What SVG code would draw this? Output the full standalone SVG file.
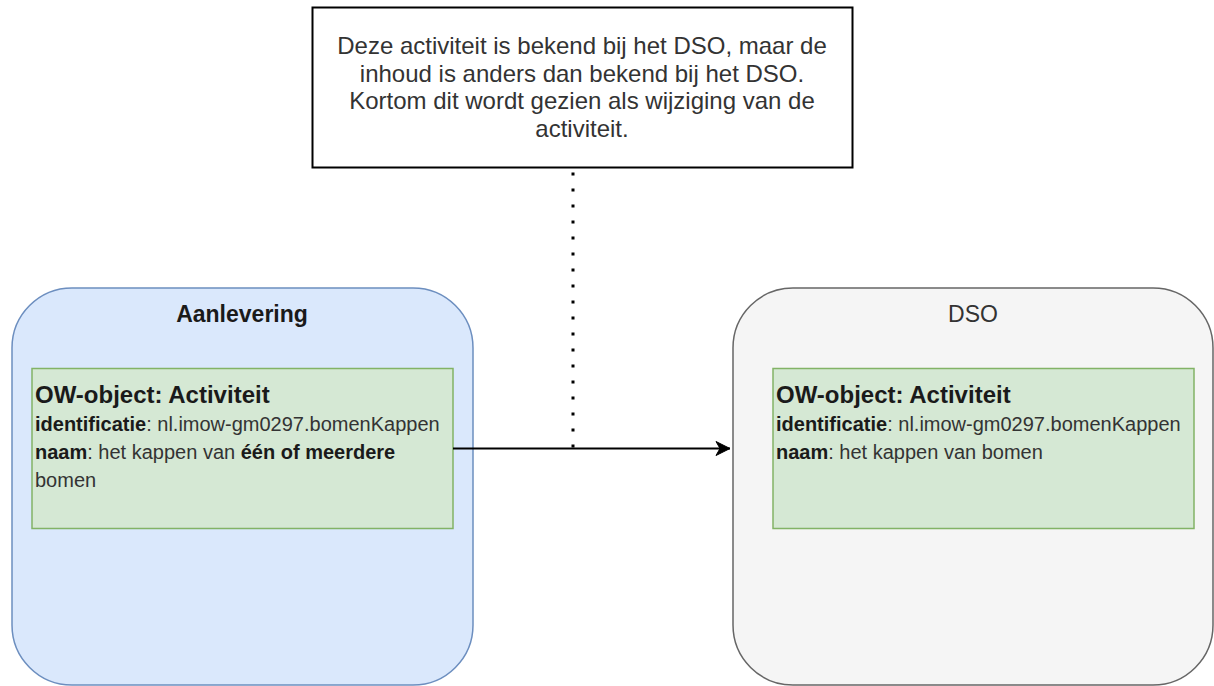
<svg xmlns="http://www.w3.org/2000/svg" width="1214" height="686" viewBox="0 0 1214 686">
<style>
text{font-family:"Liberation Sans",Arial,sans-serif;}
.title{font-size:23px;font-weight:bold;text-anchor:middle;}
.head{font-size:24px;font-weight:bold;fill:#1a1a1a;}
.attr{font-size:20px;fill:#333;}
.b{font-weight:bold;fill:#1a1a1a;}
.note{font-size:24px;fill:#333;text-anchor:middle;}
.obj{fill:#d5e8d4;stroke:#82b366;stroke-width:1.5;}
</style>
<defs>
<marker id="arr" markerWidth="16" markerHeight="16" refX="15" refY="8" orient="auto" markerUnits="userSpaceOnUse">
<path d="M1,1 L15,8 L1,15 L5,8 Z" fill="#000" stroke="#000" stroke-width="1"/>
</marker>
</defs>
<rect width="1214" height="686" fill="#fff"/>
<g id="note">
<rect x="312.5" y="7.5" width="540" height="160" fill="#fff" stroke="#000" stroke-width="2"/>
<text class="note" x="582" y="54">Deze activiteit is bekend bij het DSO, maar de</text>
<text class="note" x="582" y="81.5">inhoud is anders dan bekend bij het DSO.</text>
<text class="note" x="582" y="109">Kortom dit wordt gezien als wijziging van de</text>
<text class="note" x="582" y="136.5">activiteit.</text>
</g>
<g id="aanlevering">
<rect x="12" y="288" width="461" height="397" rx="60" ry="60" fill="#dae8fc" stroke="#6c8ebf" stroke-width="1.5"/>
<text class="title" x="242" y="322" fill="#1a1a1a">Aanlevering</text>
</g>
<g id="aanlevering-activiteit">
<rect class="obj" x="32" y="368.5" width="421" height="160"/>
<text class="head" x="35" y="403">OW-object: Activiteit</text>
<text class="attr" x="35" y="431"><tspan class="b">identificatie</tspan>: nl.imow-gm0297.bomenKappen</text>
<text class="attr" x="35" y="458.5"><tspan class="b">naam</tspan>: het kappen van <tspan class="b">één of meerdere</tspan></text>
<text class="attr" x="35" y="486.5">bomen</text>
</g>
<g id="dso">
<rect x="733" y="288" width="480" height="397" rx="60" ry="60" fill="#f5f5f5" stroke="#666" stroke-width="1.5"/>
<text class="title" x="973" y="322" fill="#333" font-weight="normal" style="font-weight:normal">DSO</text>
</g>
<g id="dso-activiteit">
<rect class="obj" x="773" y="368.5" width="421" height="160"/>
<text class="head" x="776" y="403">OW-object: Activiteit</text>
<text class="attr" x="776" y="431"><tspan class="b">identificatie</tspan>: nl.imow-gm0297.bomenKappen</text>
<text class="attr" x="776" y="458.5"><tspan class="b">naam</tspan>: het kappen van bomen</text>
</g>
<g id="connectors">
<line x1="453" y1="448.5" x2="730" y2="448.5" stroke="#000" stroke-width="2" marker-end="url(#arr)"/>
<line x1="573" y1="172.5" x2="573" y2="449" stroke="#000" stroke-width="3" stroke-dasharray="3 13"/>
</g>
</svg>
